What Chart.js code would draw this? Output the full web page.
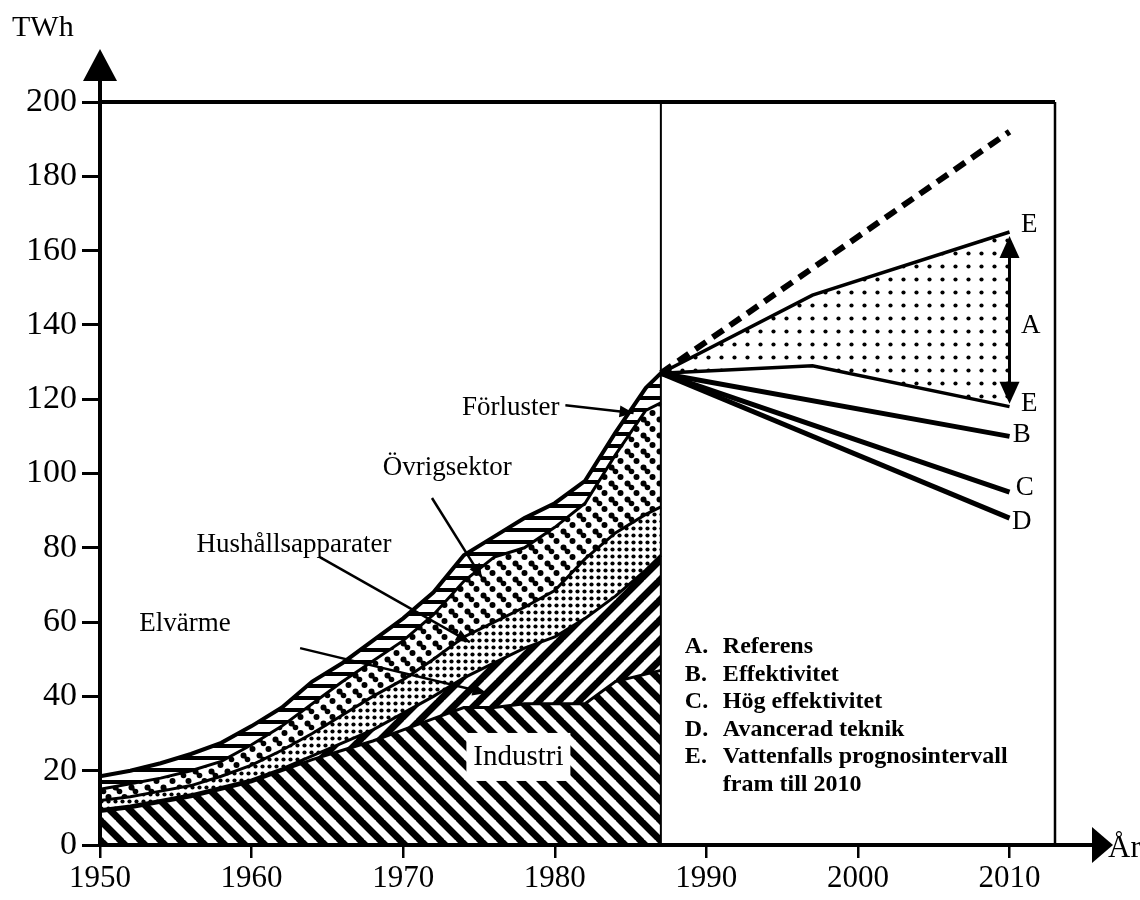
<!DOCTYPE html>
<html lang="sv">
<head>
<meta charset="utf-8">
<title>Elanvändning 1950–2010</title>
<script src="https://cdn.jsdelivr.net/npm/chart.js@4.4.1/dist/chart.umd.min.js"></script>
<style>
  html, body { margin: 0; padding: 0; background: #fff; }
  #wrap { width: 1140px; height: 900px; }
</style>
</head>
<body>
<div id="wrap"><canvas id="elChart" width="1140" height="900"></canvas></div>
<script>
// Historical use per sector, TWh
const years     = [1950, 1952, 1954, 1956, 1958, 1960, 1962, 1964, 1966, 1968, 1970, 1972, 1974, 1976, 1978, 1980, 1982, 1984, 1986, 1987];
const industri  = [9, 10, 11.5, 13, 15, 17, 20, 23, 25.5, 28, 31, 34, 37, 37, 38, 38, 38, 44, 46, 47];
const elvarme   = [0.5, 0.5, 0.5, 0.5, 0.5, 0.5, 0.5, 1, 2, 3, 4.5, 6, 8, 12, 15, 18, 23, 23, 28, 31];
const hushall   = [2.5, 2.5, 2.5, 2.5, 3, 4, 5, 6, 7.5, 9, 9, 10, 11, 11, 11, 12.5, 16, 17, 15, 13];
const ovrig     = [3, 3.5, 3.5, 4, 4, 5.5, 6.5, 8, 9, 9.5, 10.5, 12, 15, 17.5, 16, 17, 15, 21, 28, 28];
const forluster = [3.5, 3.5, 4, 4.5, 5, 5, 5, 6, 5, 5.5, 6, 6, 7, 5.5, 8, 6.5, 6, 6, 6, 8];

// Scenarios 1987-2010, TWh
const trendYears = [1987, 2010];
const trend      = [127, 192];
const rangeYears = [1987, 1997, 2010];
const rangeHigh  = [127, 148, 165];
const rangeLow   = [127, 129, 118];
const refYears   = [1987, 1998, 2010];
const scenA      = [127, 138, 138];
const scenYears  = [1987, 2010];
const scenB      = [127, 110];
const scenC      = [127, 95];
const scenD      = [127, 88];

const splitYear = 1987;
const xTicks = [1950, 1960, 1970, 1980, 1990, 2000, 2010];
const yTicks = [0, 20, 40, 60, 80, 100, 120, 140, 160, 180, 200];

const legendRows = [
  ['A.', 'Referens'],
  ['B.', 'Effektivitet'],
  ['C.', 'Hög effektivitet'],
  ['D.', 'Avancerad teknik'],
  ['E.', 'Vattenfalls prognosintervall'],
  ['', 'fram till 2010']
];

const SERIF = '"Liberation Serif", "Times New Roman", serif';

const canvas = document.getElementById('elChart');
const ctx = canvas.getContext('2d');

/**
 * Build a repeating black/white fill pattern
 */
function makePattern(size, draw) {
  const c = document.createElement('canvas');
  c.width = size;
  c.height = size;
  const g = c.getContext('2d');
  g.fillStyle = '#fff';
  g.fillRect(0, 0, size, size);
  g.fillStyle = '#000';
  g.strokeStyle = '#000';
  draw(g, size);
  return ctx.createPattern(c, 'repeat');
}

function dot(g, x, y, r) {
  g.beginPath();
  g.arc(x, y, r, 0, Math.PI * 2);
  g.fill();
}

const hatchBack = makePattern(20, (g, s) => {   // "\\" stripes
  g.lineWidth = 7;
  g.beginPath();
  for (let k = -1; k <= 1; k++) {
    g.moveTo(k * s - 2, -2);
    g.lineTo(k * s + s + 2, s + 2);
  }
  g.stroke();
});

const hatchFwd = makePattern(20, (g, s) => {    // "//" stripes
  g.lineWidth = 7;
  g.beginPath();
  for (let k = -1; k <= 1; k++) {
    g.moveTo(k * s - 2, s + 2);
    g.lineTo(k * s + s + 2, -2);
  }
  g.stroke();
});

const fineDots = makePattern(7, (g) => {
  dot(g, 3.5, 3.5, 2.1);
});

const boldDots = makePattern(16, (g) => {
  dot(g, 3.5, 3.5, 3);
  dot(g, 7.5, 7.5, 2.8);
  g.lineWidth = 3;
  g.beginPath();
  g.moveTo(3.5, 3.5);
  g.lineTo(7.5, 7.5);
  g.stroke();
  dot(g, 12.5, 13, 3);
});

const hStripes = makePattern(12, (g, s) => {
  g.fillRect(0, 0, s, 4);
});

const rangeDots = makePattern(13, (g) => {
  dot(g, 6.5, 6.5, 2.1);
});

// stack sector values into boundary lines
const sectors = [
  { label: 'Industri', values: industri, fill: hatchBack },
  { label: 'Elvärme', values: elvarme, fill: hatchFwd },
  { label: 'Hushållsapparater', values: hushall, fill: fineDots },
  { label: 'Övrigsektor', values: ovrig, fill: boldDots },
  { label: 'Förluster', values: forluster, fill: hStripes }
];

let running = years.map(() => 0);
const sectorSets = sectors.map((s, idx) => {
  running = running.map((v, i) => v + s.values[i]);
  return {
    label: s.label,
    data: years.map((yr, i) => ({ x: yr, y: running[i] })),
    backgroundColor: s.fill,
    borderColor: '#000',
    borderWidth: idx === sectors.length - 1 ? 4 : 3,
    fill: idx === 0 ? 'origin' : '-1',
    pointRadius: 0,
    tension: 0
  };
});

function lineSet(label, xs, ys, extra = {}) {
  return {
    label: label,
    data: xs.map((yr, i) => ({ x: yr, y: ys[i] })),
    borderColor: '#000',
    borderWidth: 4,
    fill: false,
    pointRadius: 0,
    tension: 0,
    ...extra
  };
}

const scenarioSets = [
  lineSet('Trend', trendYears, trend, { borderWidth: 6, borderDash: [13, 8] }),
  lineSet('E övre', rangeYears, rangeHigh, { borderWidth: 3.5 }),
  lineSet('E undre', rangeYears, rangeLow, { borderWidth: 3.5, fill: '-1', backgroundColor: rangeDots }),
  lineSet('A', refYears, scenA),
  lineSet('B', scenYears, scenB, { borderWidth: 5 }),
  lineSet('C', scenYears, scenC, { borderWidth: 5 }),
  lineSet('D', scenYears, scenD, { borderWidth: 5 })
];

// sector captions with leader arrows, in data units
const captions = [
  { text: 'Förluster', at: [1977.1, 117.6], from: [1980.7, 118.4], to: [1985.2, 116.3] },
  { text: 'Övrigsektor', at: [1972.9, 101.5], from: [1971.9, 93.4], to: [1975.2, 71.9] },
  { text: 'Hushållsapparater', at: [1962.8, 80.8], from: [1964.5, 77.5], to: [1974.4, 54.6] },
  { text: 'Elvärme', at: [1955.6, 59.5], from: [1963.2, 53.0], to: [1975.5, 40.9] }
];

const endLetters = [
  ['E', 2011.3, 166.9], ['A', 2011.4, 139.7], ['E', 2011.3, 118.7],
  ['B', 2010.8, 110.4], ['C', 2011.0, 96.1], ['D', 2010.8, 87.0]
];

function arrowHead(c, x0, y0, x1, y1, len, half) {
  const ang = Math.atan2(y1 - y0, x1 - x0);
  c.beginPath();
  c.moveTo(x1, y1);
  c.lineTo(x1 - len * Math.cos(ang) + half * Math.sin(ang), y1 - len * Math.sin(ang) - half * Math.cos(ang));
  c.lineTo(x1 - len * Math.cos(ang) - half * Math.sin(ang), y1 - len * Math.sin(ang) + half * Math.cos(ang));
  c.closePath();
  c.fill();
}

const overlayPlugin = {
  id: 'overlay',
  afterDatasetsDraw(chart) {
    const c = chart.ctx;
    const a = chart.chartArea;
    const x = chart.scales.x;
    const y = chart.scales.y;
    c.save();
    c.fillStyle = '#000';
    c.strokeStyle = '#000';

    // divider between history and forecast
    const xs = x.getPixelForValue(splitYear);
    c.lineWidth = 2;
    c.beginPath();
    c.moveTo(xs, a.top);
    c.lineTo(xs, a.bottom);
    c.stroke();

    // forecast interval arrow
    const xe = x.getPixelForValue(rangeYears[rangeYears.length - 1]);
    const yHi = y.getPixelForValue(rangeHigh[rangeHigh.length - 1]);
    const yLo = y.getPixelForValue(rangeLow[rangeLow.length - 1]);
    c.lineWidth = 3;
    c.beginPath();
    c.moveTo(xe, yHi + 12);
    c.lineTo(xe, yLo - 12);
    c.stroke();
    arrowHead(c, xe, yLo, xe, yHi + 4, 22, 10);
    arrowHead(c, xe, yHi, xe, yLo - 3, 22, 10);

    // scenario letters
    c.font = '27px ' + SERIF;
    c.textAlign = 'center';
    c.textBaseline = 'middle';
    endLetters.forEach(([t, xv, yv]) => {
      c.fillText(t, x.getPixelForValue(xv), y.getPixelForValue(yv));
    });

    // sector captions
    captions.forEach(cap => {
      c.fillText(cap.text, x.getPixelForValue(cap.at[0]), y.getPixelForValue(cap.at[1]));
      const x0 = x.getPixelForValue(cap.from[0]);
      const y0 = y.getPixelForValue(cap.from[1]);
      const x1 = x.getPixelForValue(cap.to[0]);
      const y1 = y.getPixelForValue(cap.to[1]);
      c.lineWidth = 2.5;
      c.beginPath();
      c.moveTo(x0, y0);
      c.lineTo(x1, y1);
      c.stroke();
      arrowHead(c, x0, y0, x1, y1, 14, 6);
    });

    // Industri label on white
    const ix = x.getPixelForValue(1977.6);
    const iy = y.getPixelForValue(23.7);
    c.fillStyle = '#fff';
    c.fillRect(ix - 52, iy - 24, 104, 48);
    c.fillStyle = '#000';
    c.font = '29px ' + SERIF;
    c.fillText('Industri', ix, iy);

    // scenario legend
    c.font = 'bold 24px ' + SERIF;
    c.textAlign = 'left';
    c.textBaseline = 'alphabetic';
    legendRows.forEach(([k, t], i) => {
      const by = 653 + i * 27.6;
      c.fillText(k, xs + 24, by);
      c.fillText(t, xs + 62, by);
    });
    c.restore();
  },
  afterDraw(chart) {
    const c = chart.ctx;
    const a = chart.chartArea;
    c.save();
    c.fillStyle = '#000';
    c.strokeStyle = '#000';

    // frame
    c.lineWidth = 2.5;
    c.beginPath();
    c.moveTo(a.right, a.top);
    c.lineTo(a.right, a.bottom);
    c.stroke();
    c.lineWidth = 4;
    c.beginPath();
    c.moveTo(a.left, a.top);
    c.lineTo(a.right, a.top);
    c.stroke();

    // y axis with arrow
    c.beginPath();
    c.moveTo(a.left, a.bottom);
    c.lineTo(a.left, a.top - 24);
    c.stroke();
    c.beginPath();
    c.moveTo(a.left, a.top - 53);
    c.lineTo(a.left - 17, a.top - 21);
    c.lineTo(a.left + 17, a.top - 21);
    c.closePath();
    c.fill();

    // x axis with arrow
    c.beginPath();
    c.moveTo(a.left, a.bottom);
    c.lineTo(a.right + 40, a.bottom);
    c.stroke();
    c.beginPath();
    c.moveTo(a.right + 58, a.bottom);
    c.lineTo(a.right + 37, a.bottom - 18);
    c.lineTo(a.right + 37, a.bottom + 18);
    c.closePath();
    c.fill();

    c.font = '30px ' + SERIF;
    c.textAlign = 'left';
    c.textBaseline = 'alphabetic';
    c.fillText('TWh', 12, 36);
    c.font = '31px ' + SERIF;
    c.fillText('År', a.right + 53, a.bottom + 12);
    c.restore();
  }
};

new Chart(ctx, {
  type: 'line',
  data: { datasets: sectorSets.concat(scenarioSets) },
  options: {
    responsive: false,
    animation: false,
    devicePixelRatio: 1,
    layout: { padding: { top: 102, right: 85, bottom: 0, left: 0 } },
    plugins: {
      legend: { display: false },
      tooltip: { enabled: false }
    },
    scales: {
      x: {
        type: 'linear',
        min: 1950,
        max: 2013,
        afterBuildTicks: s => { s.ticks = xTicks.map(v => ({ value: v })); },
        afterFit: s => { s.height = 55; },
        border: { display: false },
        grid: { drawOnChartArea: false, drawTicks: true, tickLength: 13, color: '#000', lineWidth: 2.5 },
        ticks: {
          color: '#000',
          font: { family: SERIF, size: 31 },
          padding: 2,
          maxRotation: 0,
          autoSkip: false,
          callback: v => String(v)
        }
      },
      y: {
        type: 'linear',
        min: 0,
        max: 200,
        afterBuildTicks: s => { s.ticks = yTicks.map(v => ({ value: v })); },
        afterFit: s => { s.width = 100; },
        border: { display: false },
        grid: { drawOnChartArea: false, drawTicks: true, tickLength: 18, color: '#000', lineWidth: 3 },
        ticks: {
          color: '#000',
          font: { family: SERIF, size: 34 },
          padding: 5,
          autoSkip: false,
          callback: v => String(v)
        }
      }
    }
  },
  plugins: [overlayPlugin]
});
</script>
</body>
</html>
